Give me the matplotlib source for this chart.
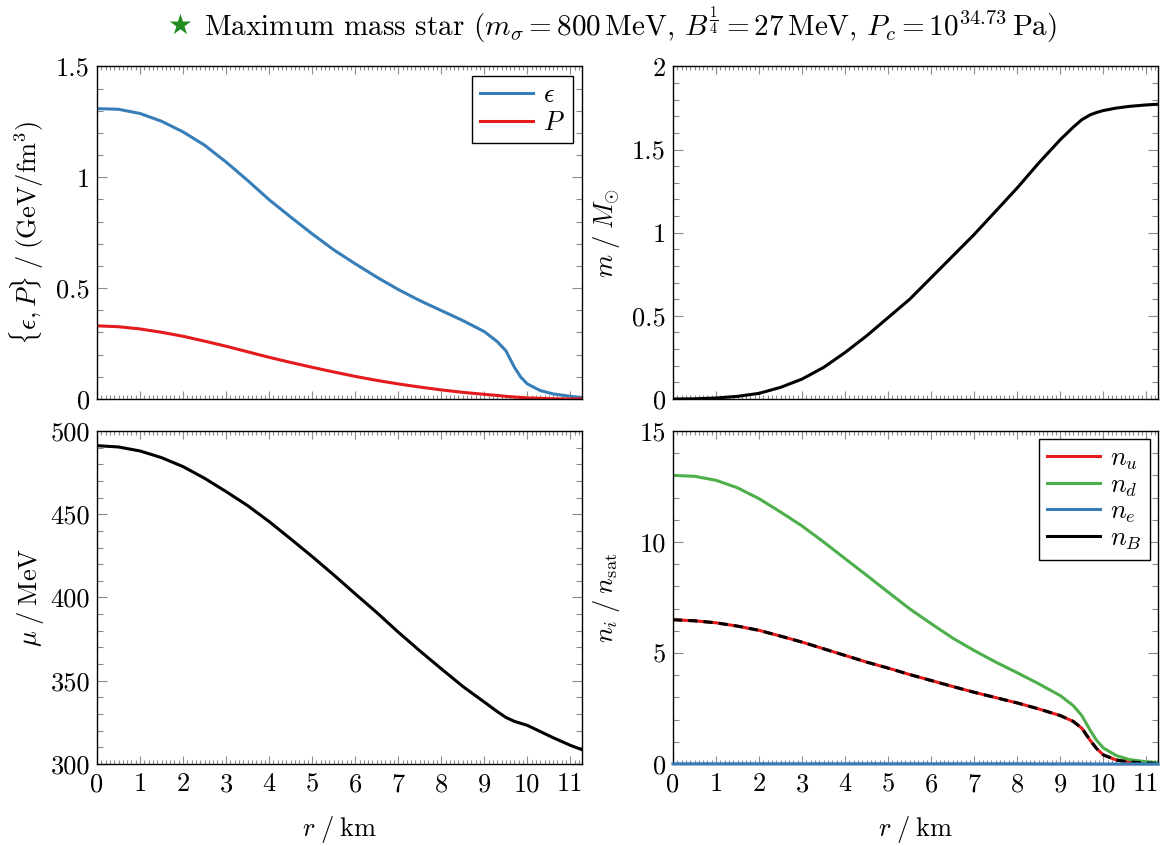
import numpy as np
import matplotlib
matplotlib.use('Agg')
from matplotlib import pyplot as plt
from matplotlib.lines import Line2D
from matplotlib.ticker import MultipleLocator, FuncFormatter

plt.rcParams['font.family'] = 'serif'
plt.rcParams['font.serif'] = ['cmr10']
plt.rcParams['mathtext.fontset'] = 'cm'
plt.rcParams['axes.formatter.use_mathtext'] = True
plt.rcParams['font.size'] = 19

# radius grid (km)
r = [0, 0.5, 1, 1.5, 2, 2.5, 3, 3.5, 4, 4.5, 5, 5.5, 6, 6.5, 7, 7.5, 8, 8.5,
     9, 9.3, 9.5, 9.7, 9.85, 10, 10.3, 10.6, 11, 11.27]

eps = [1.310, 1.307, 1.288, 1.253, 1.205, 1.145, 1.069, 0.986, 0.899, 0.821,
       0.745, 0.673, 0.610, 0.550, 0.494, 0.444, 0.399, 0.354, 0.304, 0.259,
       0.218, 0.143, 0.098, 0.068, 0.038, 0.023, 0.012, 0.006]
P = [0.330, 0.326, 0.316, 0.301, 0.283, 0.261, 0.238, 0.213, 0.188, 0.165,
     0.143, 0.122, 0.102, 0.084, 0.068, 0.054, 0.041, 0.030, 0.021, 0.016,
     0.012, 0.009, 0.007, 0.005, 0.003, 0.001, 0.0, 0.0]
m = [0, 0.001, 0.006, 0.016, 0.034, 0.07, 0.12, 0.19, 0.28, 0.38, 0.49, 0.60,
     0.73, 0.86, 0.99, 1.13, 1.27, 1.42, 1.56, 1.635, 1.68, 1.71, 1.724,
     1.735, 1.75, 1.76, 1.769, 1.773]
mu = [491.2, 490.4, 488, 484, 478.6, 471.6, 463.6, 455.2, 445.6, 435.2, 424.6,
      413.6, 402.2, 391, 379.2, 368, 357.2, 346.6, 337.2, 331.5, 328, 325.6,
      324.4, 323.2, 319.5, 315.8, 311.2, 308.6]
n_u = [6.50, 6.45, 6.36, 6.21, 6.02, 5.76, 5.49, 5.19, 4.89, 4.59, 4.32, 4.03,
       3.76, 3.49, 3.23, 2.99, 2.75, 2.48, 2.18, 1.92, 1.61, 1.05, 0.68, 0.41,
       0.18, 0.09, 0.05, 0.02]
n_d = [13.0, 12.96, 12.78, 12.44, 11.95, 11.35, 10.72, 10.0, 9.25, 8.50, 7.74,
       6.99, 6.32, 5.67, 5.11, 4.59, 4.11, 3.61, 3.08, 2.63, 2.18, 1.50, 1.05,
       0.72, 0.38, 0.20, 0.10, 0.07]
n_e = [0.01, 0.01, 0.01, 0.01, 0.01, 0.01, 0.01, 0.01, 0.01, 0.01, 0.01, 0.01,
       0.01, 0.01, 0.01, 0.01, 0.01, 0.005, 0.005, 0.005, 0.005, 0.0, 0.0, 0.0,
       0.0, 0.0, 0.0, 0.0]
n_B = [6.50, 6.45, 6.36, 6.21, 6.02, 5.76, 5.49, 5.19, 4.89, 4.59, 4.32, 4.03,
       3.76, 3.49, 3.23, 2.99, 2.75, 2.48, 2.18, 1.92, 1.61, 1.05, 0.68, 0.41,
       0.18, 0.09, 0.05, 0.02]

blue = '#377eb8'
red = '#e41a1c'
green = '#4daf4a'
lw = 2.2

fig = plt.figure(figsize=(11.73, 8.46), dpi=100)
W, H = 1173, 846
def box(x0, x1, y0, y1):
    return [x0 / W, 1 - y1 / H, (x1 - x0) / W, (y1 - y0) / H]

ax1 = fig.add_axes(box(97, 582, 66.5, 399))
ax2 = fig.add_axes(box(673, 1158, 66.5, 399))
ax3 = fig.add_axes(box(97, 582, 431, 764))
ax4 = fig.add_axes(box(673, 1158, 431, 764))

fmt = FuncFormatter(lambda v, p: '%g' % v)

def style(ax, ylim, ymaj, ymin, bottom_labels):
    ax.set_xlim(0, 11.27)
    ax.set_ylim(*ylim)
    ax.xaxis.set_major_locator(MultipleLocator(1))
    ax.xaxis.set_minor_locator(MultipleLocator(0.1))
    ax.yaxis.set_major_locator(MultipleLocator(ymaj))
    ax.yaxis.set_minor_locator(MultipleLocator(ymin))
    ax.yaxis.set_major_formatter(fmt)
    ax.xaxis.set_major_formatter(fmt)
    ax.tick_params(which='both', direction='in', top=True, right=True,
                   color='#8c8c8c', width=0.8)
    ax.tick_params(axis='x', which='major', length=5.5, pad=6)
    ax.tick_params(axis='x', which='minor', length=3)
    ax.tick_params(axis='y', which='major', length=7, pad=5)
    ax.tick_params(axis='y', which='minor', length=4.5)
    ax.tick_params(labelbottom=bottom_labels)
    for s in ax.spines.values():
        s.set_linewidth(1.0)
    if bottom_labels:
        ax.set_xlabel(r'$r\;/\;\mathrm{km}$', labelpad=13)
    ax.yaxis.set_label_coords(-0.105, 0.5)

# energy density and pressure
ax1.plot(r, eps, color=blue, lw=lw, label=r'$\epsilon$')
ax1.plot(r, P, color=red, lw=lw, label=r'$P$')
style(ax1, (0, 1.5), 0.5, 0.1, False)
ax1.set_ylabel(r'$\{\epsilon, P\}\;/\;(\mathrm{GeV}/\mathrm{fm}^3)$')
ax1.legend(loc='upper right', fancybox=False, edgecolor='black',
           framealpha=1, handlelength=2.0, borderpad=0.3, labelspacing=0.15,
           handletextpad=0.4, borderaxespad=0.35).get_frame().set_linewidth(1.0)

# enclosed mass
ax2.plot(r, m, color='black', lw=lw)
style(ax2, (0, 2), 0.5, 0.1, False)
ax2.set_ylabel(r'$m\;/\;M_{\odot}$')

# chemical potential
ax3.plot(r, mu, color='black', lw=lw)
style(ax3, (300, 500), 50, 10, True)
ax3.set_ylabel(r'$\mu\;/\;\mathrm{MeV}$')

# number densities
ax4.plot(r, n_u, color=red, lw=lw)
ax4.plot(r, n_d, color=green, lw=lw)
ax4.plot(r, n_e, color=blue, lw=lw, clip_on=False, zorder=5)
ax4.plot(r, n_B, color='black', lw=lw, ls=(0, (3, 2)))
style(ax4, (0, 15), 5, 1, True)
ax4.set_ylabel(r'$n_i\;/\;n_{\mathrm{sat}}$')
handles = [Line2D([], [], color=red, lw=lw), Line2D([], [], color=green, lw=lw),
           Line2D([], [], color=blue, lw=lw), Line2D([], [], color='black', lw=lw)]
ax4.legend(handles, [r'$n_u$', r'$n_d$', r'$n_e$', r'$n_B$'], loc='upper right',
           fancybox=False, edgecolor='black', framealpha=1, handlelength=2.0,
           borderpad=0.3, labelspacing=0.05, handletextpad=0.4,
           borderaxespad=0.3).get_frame().set_linewidth(1.0)

# title with green star
fig.text(0.153, 0.969, '\u2605', color='#228b22', fontsize=20,
         family='DejaVu Sans', ha='center', va='center')
fig.text(0.174, 0.969,
         r'Maximum mass star ($m_\sigma = 800\,\mathrm{MeV}$, '
         r'$B^{\frac{1}{4}} = 27\,\mathrm{MeV}$, $P_c = 10^{34.73}\,\mathrm{Pa}$)',
         fontsize=21, ha='left', va='center')

fig.savefig('out.png', dpi=100)
